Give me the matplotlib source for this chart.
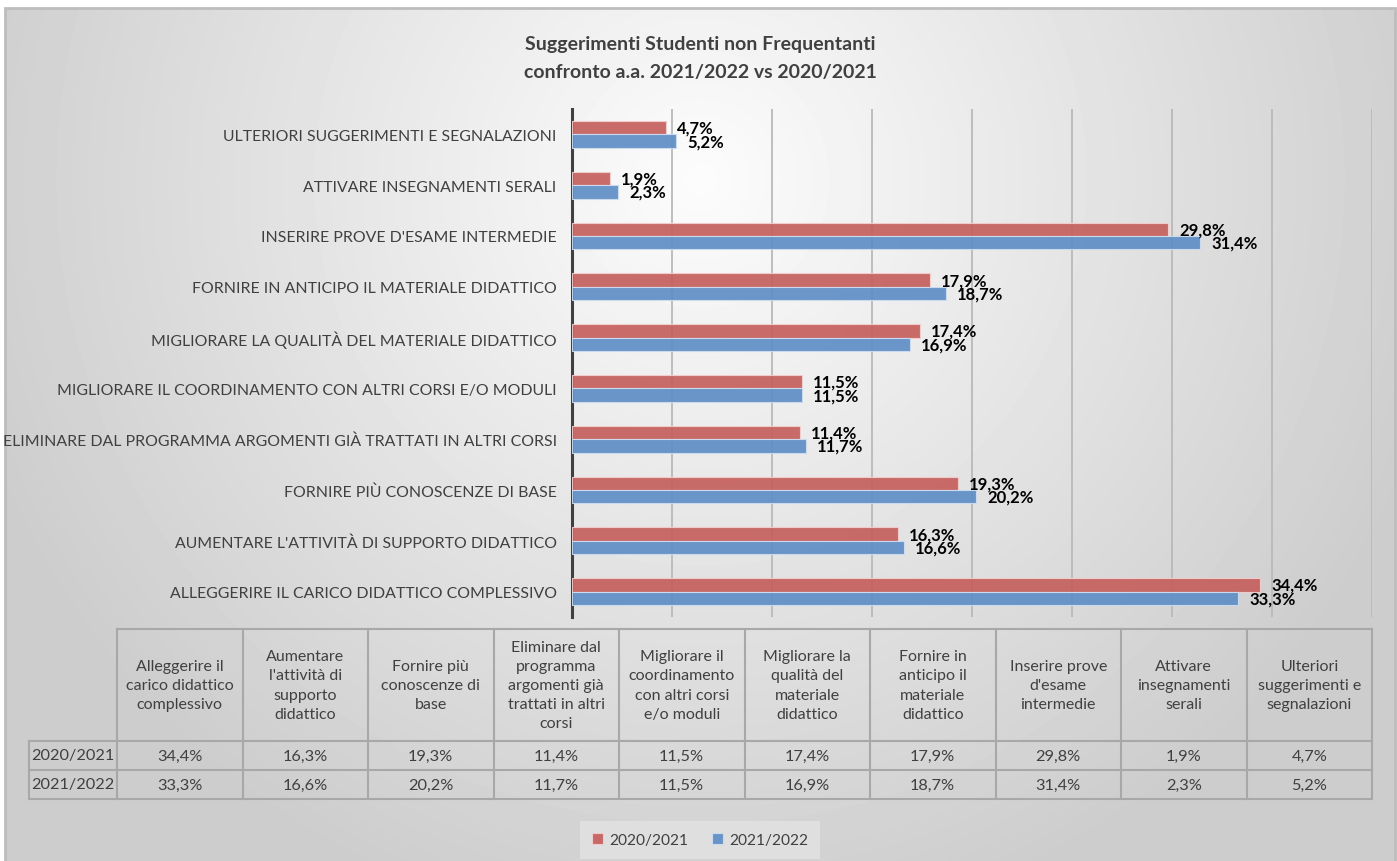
import numpy as np
import matplotlib
matplotlib.use('Agg')
import matplotlib.pyplot as plt
from matplotlib.patches import Rectangle

plt.rcParams['font.family'] = ['Lato', 'DejaVu Sans']

# data
categories = ["Alleggerire il\ncarico didattico\ncomplessivo",
              "Aumentare\nl'attività di\nsupporto\ndidattico",
              "Fornire più\nconoscenze di\nbase",
              "Eliminare dal\nprogramma\nargomenti già\ntrattati in altri\ncorsi",
              "Migliorare il\ncoordinamento\ncon altri corsi\ne/o moduli",
              "Migliorare la\nqualità del\nmateriale\ndidattico",
              "Fornire in\nanticipo il\nmateriale\ndidattico",
              "Inserire prove\nd'esame\nintermedie",
              "Attivare\ninsegnamenti\nserali",
              "Ulteriori\nsuggerimenti e\nsegnalazioni"]
series_names = ["2020/2021", "2021/2022"]
vals_2021 = [34.4, 16.3, 19.3, 11.4, 11.5, 17.4, 17.9, 29.8, 1.9, 4.7]
vals_2022 = [33.3, 16.6, 20.2, 11.7, 11.5, 16.9, 18.7, 31.4, 2.3, 5.2]
title = "Suggerimenti Studenti non Frequentanti\nconfronto a.a. 2021/2022 vs 2020/2021"

red = '#C5605D'
blue = '#5F8EC6'
txt = '#404040'

W, H = 1397, 862
fig = plt.figure(figsize=(W / 100, H / 100), dpi=100)

def fx(px):
    return px / W

def fy(py):
    return 1 - py / H

# background radial gradient
bg = fig.add_axes([0, 0, 1, 1], zorder=-10)
yy, xx = np.mgrid[0:H, 0:W]
r = np.sqrt((xx - 700.0) ** 2 + (yy - 180.0) ** 2)
img = 252 - 47 * np.clip(r / 760.0, 0, 1)
img[:9, :] = 255
img[:, :5] = 255
bg.imshow(img, cmap='gray', vmin=0, vmax=255, extent=[0, W, H, 0], aspect='auto', interpolation='bilinear')
bg.add_patch(Rectangle((5, 9), W - 7, H - 8, fill=False, ec='#BDBDBD', lw=2))
bg.set_xlim(0, W)
bg.set_ylim(H, 0)
bg.axis('off')

# title
fig.text(fx(700), fy(58.5), title, ha='center', va='center', fontsize=14,
         fontweight='bold', color=txt, linespacing=1.72)

# bars
ax = fig.add_axes([fx(572), fy(618), fx(1372 - 572), (618 - 110) / H])
ax.set_facecolor('none')
y = np.arange(len(categories))
bh = 0.265
b1 = ax.barh(y + bh / 2, vals_2021, height=bh, color=red, alpha=0.92,
             edgecolor='#F2D0CF', linewidth=0.8, label=series_names[0], zorder=3)
b2 = ax.barh(y - bh / 2, vals_2022, height=bh, color=blue, alpha=0.92,
             edgecolor='#D0DDF0', linewidth=0.8, label=series_names[1], zorder=3)
fmt = lambda v: ('%.1f%%' % v).replace('.', ',')
for bars, vals in ((b1, vals_2021), (b2, vals_2022)):
    for b, v in zip(bars, vals):
        ax.annotate(fmt(v), (b.get_width(), b.get_y() + b.get_height() / 2),
                    xytext=(8, 0), textcoords='offset points', ha='left', va='center',
                    fontsize=12, fontweight='bold', color='black', zorder=5)

ax.set_xlim(0, 40)
ax.set_ylim(-0.5, len(categories) - 0.5)
ax.set_xticks(np.arange(5, 41, 5))
ax.grid(axis='x', color='#B9B9B9', lw=1.3, zorder=1)
ax.tick_params(axis='x', length=0, labelbottom=False)
ax.tick_params(axis='y', length=0, pad=11)
ax.set_yticks(y)
ax.set_yticklabels([c.replace('\n', ' ').upper() for c in categories], fontsize=11.4, color=txt)
for s in ('top', 'right', 'bottom'):
    ax.spines[s].set_visible(False)
ax.spines['left'].set_color('#404040')
ax.spines['left'].set_linewidth(2.2)

# data table
tab = fig.add_axes([0, 0, 1, 1], zorder=2)
tab.set_xlim(0, W)
tab.set_ylim(H, 0)
tab.axis('off')
edges = np.linspace(117, 1372, len(categories) + 1)
top, hdr, r1, r2 = 630, 742, 771, 800
lc = '#A8A8A8'
tab.plot([edges[0], edges[-1]], [top, top], color=lc, lw=1.5)
for yl in (hdr, r1, r2):
    tab.plot([29, edges[-1]], [yl, yl], color=lc, lw=1.5)
for e in edges:
    tab.plot([e, e], [top, r2], color=lc, lw=1.5)
tab.plot([29, 29], [hdr, r2], color=lc, lw=1.5)
centers = (edges[:-1] + edges[1:]) / 2
for c, name, v1, v2 in zip(centers, categories, vals_2021, vals_2022):
    tab.text(c, (top + hdr) / 2, name, ha='center', va='center', fontsize=11.5,
             color=txt, linespacing=1.46, multialignment='center')
    tab.text(c, (hdr + r1) / 2, fmt(v1), ha='center', va='center', fontsize=11.8, color=txt)
    tab.text(c, (r1 + r2) / 2, fmt(v2), ha='center', va='center', fontsize=11.8, color=txt)
tab.text(73, (hdr + r1) / 2, series_names[0], ha='center', va='center', fontsize=11.7, color=txt)
tab.text(73, (r1 + r2) / 2, series_names[1], ha='center', va='center', fontsize=11.7, color=txt)

# legend
h, l = ax.get_legend_handles_labels()
leg = fig.legend(h, l, loc='center', bbox_to_anchor=(fx(700), fy(841)), ncol=2,
                 frameon=True, fontsize=11.2, handlelength=0.7, handleheight=0.7,
                 handletextpad=0.4, columnspacing=1.5, borderpad=0.5, labelcolor=txt)
leg.get_frame().set_facecolor('#E3E3E3')
leg.get_frame().set_edgecolor('none')
leg.get_frame().set_alpha(0.8)
leg.get_frame().set_boxstyle('square')

fig.savefig('out.png', dpi=100)
